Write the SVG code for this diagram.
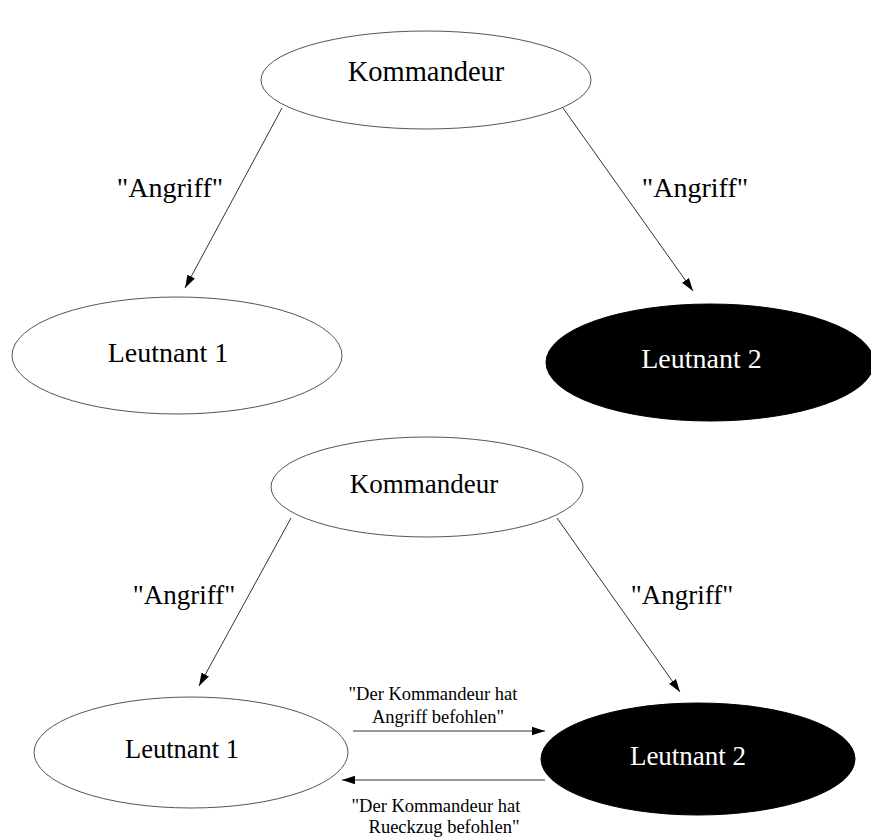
<svg xmlns="http://www.w3.org/2000/svg" width="871" height="840" viewBox="0 0 871 840">
<style>
  .node-w { fill: #ffffff; stroke: #555555; stroke-width: 1; }
  .node-b { fill: #000000; stroke: #000000; stroke-width: 1; }
  .t { font-family: "Liberation Serif", "Times New Roman", serif; text-anchor: middle; }
  .tb { fill: #000000; }
  .tw { fill: #ffffff; }
  .edge { stroke: #333333; stroke-width: 1; fill: none; marker-end: url(#arr); }
</style>
<defs>
  <marker id="arr" markerUnits="userSpaceOnUse" markerWidth="14" markerHeight="10" refX="13" refY="5" orient="auto">
    <path d="M0,0.8 L13,5 L0,9.2 Z" fill="#000000"/>
  </marker>
</defs>
<rect width="871" height="840" fill="#ffffff"/>

<g id="connectors">
  <line class="edge" x1="282" y1="108" x2="185" y2="288"/>
  <line class="edge" x1="563" y1="108" x2="693" y2="291"/>
  <line class="edge" x1="291" y1="518" x2="199" y2="686"/>
  <line class="edge" x1="557" y1="518" x2="680" y2="692"/>
  <line class="edge" x1="353" y1="731" x2="545" y2="731"/>
  <line class="edge" x1="545" y1="780" x2="342" y2="780"/>
</g>

<g id="labels">
  <text class="t tb" x="170" y="197" font-size="28">"Angriff"</text>
  <text class="t tb" x="695" y="197" font-size="28">"Angriff"</text>
  <text class="t tb" x="184" y="604" font-size="27">"Angriff"</text>
  <text class="t tb" x="682" y="604" font-size="27">"Angriff"</text>
  <text class="t tb" x="433" y="700" font-size="18.5">"Der Kommandeur hat</text>
  <text class="t tb" x="438" y="723" font-size="18.5">Angriff befohlen"</text>
  <text class="t tb" x="436" y="812" font-size="18.5">"Der Kommandeur hat</text>
  <text class="t tb" x="444" y="833" font-size="18.5">Rueckzug befohlen"</text>
</g>

<g id="kommandeur-top">
  <ellipse class="node-w" cx="426" cy="80" rx="165" ry="49"/>
  <text class="t tb" x="426" y="81" font-size="28.5">Kommandeur</text>
</g>
<g id="leutnant1-top">
  <ellipse class="node-w" cx="177" cy="355.5" rx="165" ry="58.5"/>
  <text class="t tb" x="168" y="362" font-size="28">Leutnant 1</text>
</g>
<g id="leutnant2-top">
  <ellipse class="node-b" cx="710" cy="362.5" rx="164" ry="58.5"/>
  <text class="t tw" x="701.5" y="368" font-size="28">Leutnant 2</text>
</g>

<g id="kommandeur-bottom">
  <ellipse class="node-w" cx="427" cy="487" rx="156" ry="50"/>
  <text class="t tb" x="424" y="493" font-size="27">Kommandeur</text>
</g>
<g id="leutnant1-bottom">
  <ellipse class="node-w" cx="191" cy="752.5" rx="157" ry="55.5"/>
  <text class="t tb" x="182" y="758" font-size="26.5">Leutnant 1</text>
</g>
<g id="leutnant2-bottom">
  <ellipse class="node-b" cx="698" cy="759" rx="157" ry="56"/>
  <text class="t tw" x="688" y="765" font-size="27">Leutnant 2</text>
</g>
</svg>
